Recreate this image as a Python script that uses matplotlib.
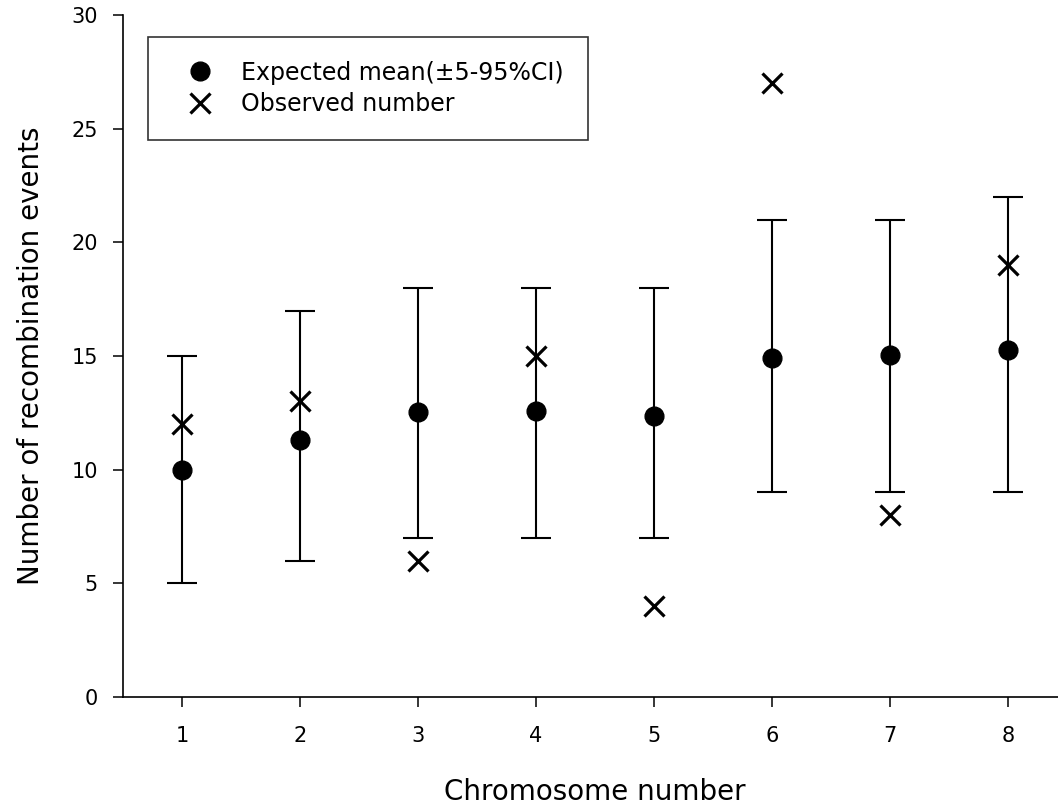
import numpy as np
import matplotlib
matplotlib.use('Agg')
import matplotlib.pyplot as plt

plt.rcParams['font.family'] = ['DejaVu Sans']

# data
chromosome = [1, 2, 3, 4, 5, 6, 7, 8]
expected_mean = [10.0, 11.3, 12.55, 12.6, 12.35, 14.9, 15.05, 15.25]
ci_low = [5, 6, 7, 7, 7, 9, 9, 9]
ci_high = [15, 17, 18, 18, 18, 21, 21, 22]
observed = [12, 13, 6, 15, 4, 27, 8, 19]

fig = plt.figure(figsize=(10.58, 8.10), dpi=100)
ax = fig.add_axes([123/1058, 113/810, 944/1058, 682/810])

mean = np.array(expected_mean)
yerr = [mean - np.array(ci_low), np.array(ci_high) - mean]

# error bars (5-95% CI) and the two point series
ax.errorbar(chromosome, expected_mean, yerr=yerr, fmt='none', ecolor='black',
            elinewidth=1.5, capsize=10.5, capthick=1.5, zorder=2)
ax.plot(chromosome, expected_mean, 'o', color='black', markersize=13.5,
        linestyle='none', label='Expected mean(±5-95%CI)', zorder=3)
ax.plot(chromosome, observed, 'x', color='black', markersize=14, markeredgewidth=2.3,
        linestyle='none', label='Observed number', zorder=4)

ax.set_xlim(0.5, 8.5)
ax.set_ylim(0, 30)
ax.set_xticks(chromosome)
ax.set_yticks([0, 5, 10, 15, 20, 25, 30])
ax.spines['top'].set_visible(False)
ax.spines['right'].set_visible(False)
ax.spines['left'].set_linewidth(1.2)
ax.spines['bottom'].set_linewidth(1.2)
ax.tick_params(direction='out', length=7, width=1.1, labelsize=15)
ax.tick_params(axis='x', pad=14)
ax.tick_params(axis='y', pad=11)

ax.set_xlabel('Chromosome number', fontsize=20, labelpad=23)
ax.set_ylabel('Number of recombination events', fontsize=20, labelpad=19)

leg = ax.legend(loc='upper left', bbox_to_anchor=(148/1058, 1 - 37/810),
                bbox_transform=fig.transFigure, frameon=True, fancybox=False,
                edgecolor='black', fontsize=17, handlelength=2.4,
                handletextpad=0.55, borderpad=1.0, labelspacing=0.33,
                borderaxespad=0)
leg.get_frame().set_linewidth(1.2)

fig.savefig('out.png', dpi=100)
